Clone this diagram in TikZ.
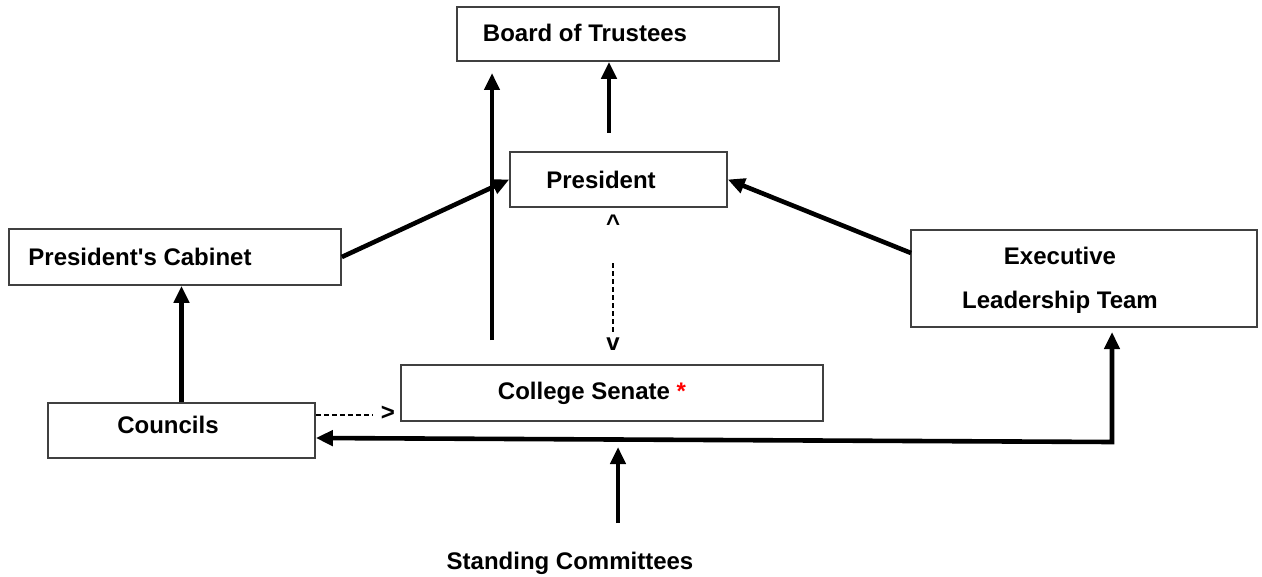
\documentclass[tikz,border=0pt]{standalone}
\usepackage{fontspec}
\setmainfont{Liberation Sans}[Ligatures=TeXOff]
\usetikzlibrary{arrows.meta}

\tikzset{
  box/.style={draw=black!75, line width=0.8pt, rectangle, inner sep=0pt},
  lbl/.style={font=\fontsize{12}{14}\selectfont\bfseries, inner sep=0pt},
  strong/.style={line width=2.3pt},
  weak/.style={line width=0.8pt, dash pattern=on 2.5pt off 1.5pt},
}

\begin{document}
\begin{tikzpicture}[x=0.5pt,y=-0.5pt,>={Triangle[length=8.5pt,width=7.5pt]}]
\useasboundingbox (0,0) rectangle (1262,577);

% boxes
\node[box,minimum width=161pt,minimum height=27pt] (board) at (618,34) {};
\node[box,minimum width=108.5pt,minimum height=27.5pt] (pres) at (618.5,179.5) {};
\node[box,minimum width=166pt,minimum height=28pt] (cab) at (175,257) {};
\node[box,minimum width=173pt,minimum height=48.5pt] (exec) at (1084,278.5) {};
\node[box,minimum width=211pt,minimum height=28pt] (sen) at (612,393) {};
\node[box,minimum width=133.5pt,minimum height=27.5pt] (coun) at (181.5,430.5) {};

% texts
\node[lbl] (boardtxt) at (585,33) {Board of Trustees};
\node[lbl] (prestxt) at (601,180) {President};
\node[lbl] (cabtxt) at (140,257) {President's Cabinet};
\node[lbl,align=center,font=\fontsize{12}{22}\selectfont\bfseries] (exectxt) at (1060,280) {Executive\\Leadership Team};
\node[lbl] (sentxt) at (592,393) {College Senate \textcolor{red}{*}};
\node[lbl] (countxt) at (168,425) {Councils};
\node[lbl] (stand) at (570,563) {Standing Committees};
\node[lbl] (up) at (613,223) {\textasciicircum};
\node[lbl] (down) at (613,344) {v};
\node[lbl] (right) at (388,413) {>};

% pomozne tocke
\coordinate (p0) at (609,133);
\coordinate (s0) at (492,340);
\coordinate (s1) at (492,73);
\coordinate (e0) at (911,253);
\coordinate (bend) at (1112,442);
\coordinate (e1) at (1112,332);
\coordinate (sc0) at (618,523);
\coordinate (sc1) at (618,447);
\coordinate (d0) at (613,263);
\coordinate (d1) at (613,333);
\coordinate (h1) at (373,415);

\draw[strong,->] (p0) -- (p0 |- board.south);
\draw[strong,->] (s0) -- (s1);
\draw[strong,->] (cab.east) -- (pres.west);
\draw[strong,->] (e0) -- (pres.east);
\draw[strong,->] (coun.north) -- (coun.north |- cab.south);
\draw[strong,<->] ([yshift=-3.75pt]coun.east) -- (bend) -- (e1);
\draw[strong,->] (sc0) -- (sc1);

\draw[weak] (d0) -- (d1);
\draw[weak] (coun.east |- h1) -- (h1);
\end{tikzpicture}
\end{document}
